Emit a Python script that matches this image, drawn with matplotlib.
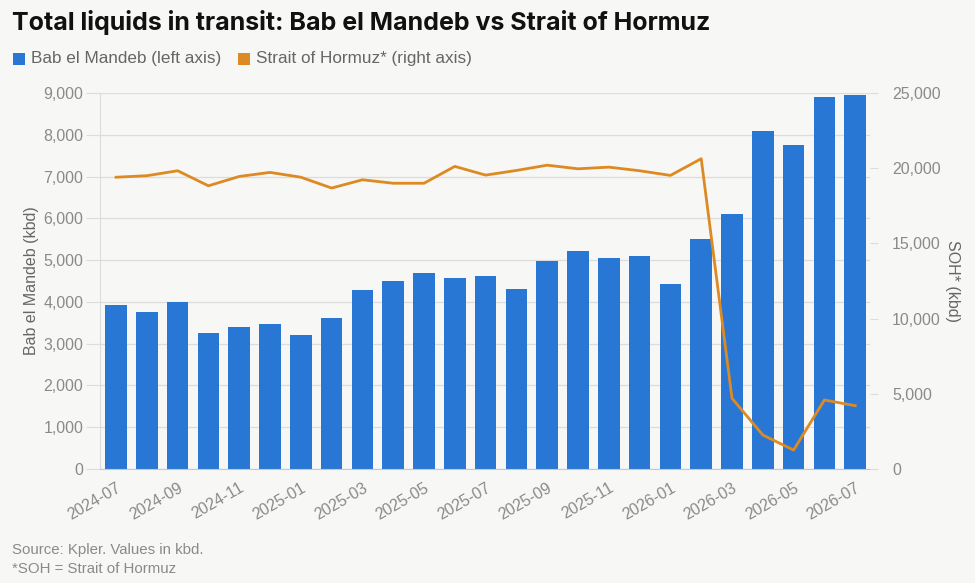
import matplotlib
matplotlib.use("Agg")
import matplotlib.pyplot as plt
from matplotlib.patches import Rectangle

months = ["2024-07","2024-08","2024-09","2024-10","2024-11","2024-12",
          "2025-01","2025-02","2025-03","2025-04","2025-05","2025-06",
          "2025-07","2025-08","2025-09","2025-10","2025-11","2025-12",
          "2026-01","2026-02","2026-03","2026-04","2026-05","2026-06","2026-07"]
bab_el_mandeb = [3930, 3750, 4000, 3250, 3390, 3480, 3200, 3620, 4290, 4500,
                 4700, 4580, 4620, 4300, 4990, 5210, 5050, 5100, 4420, 5500,
                 6110, 8080, 7760, 8900, 8950]
hormuz = [19400, 19500, 19830, 18830, 19450, 19720, 19400, 18680, 19230, 19000,
          19000, 20120, 19540, 19850, 20200, 19960, 20070, 19830, 19520, 20630,
          4700, 2260, 1260, 4590, 4210]
left_ticks = [0, 1000, 2000, 3000, 4000, 5000, 6000, 7000, 8000, 9000]
right_ticks = [0, 5000, 10000, 15000, 20000, 25000]

BG = "#f7f7f5"
BLUE = "#2977d5"
ORANGE = "#dd8a22"
GRID = "#dcdcdc"
TXT = "#8a8a8a"

plt.rcParams['font.family'] = ['Liberation Sans', 'DejaVu Sans']

fig = plt.figure(figsize=(9.75, 5.83), dpi=100, facecolor=BG)
ax = fig.add_axes([0.1026, 0.1955, 0.7897, 0.645])
ax.set_facecolor(BG)
x = list(range(len(months)))
ax.bar(x, bab_el_mandeb, width=0.7, color=BLUE, zorder=2)
ax.set_ylim(0, 9000)
ax.set_xlim(-0.52, 24.48)
ax.set_yticks(left_ticks)
ax.set_yticklabels([f"{v:,}" for v in left_ticks])
ax.grid(axis='y', color=GRID, linewidth=0.9, zorder=0)
ax.tick_params(axis='y', length=10, color=GRID, labelsize=11.5, labelcolor=TXT, pad=2)
ax.set_xticks(x[::2])
ax.set_xticklabels(months[::2], rotation=30, ha='right', rotation_mode='anchor')
ax.tick_params(axis='x', length=0, labelsize=11.5, labelcolor=TXT, pad=8)
for s in ['top', 'right']:
    ax.spines[s].set_visible(False)
ax.spines['left'].set_color(GRID)
ax.spines['bottom'].set_color("#c8c8c8")
ax.set_ylabel("Bab el Mandeb (kbd)", fontsize=11.5, color="#666666", labelpad=3)

ax2 = ax.twinx()
ax2.plot(x, hormuz, color=ORANGE, linewidth=2.0, zorder=3, solid_joinstyle='round')
ax2.set_ylim(0, 25000)
ax2.set_yticks(right_ticks)
ax2.set_yticklabels([f"{v:,}" for v in right_ticks])
ax2.tick_params(axis='y', length=6, color=GRID, labelsize=11.5, labelcolor=TXT, pad=10)
for s in ['top', 'right', 'left', 'bottom']:
    ax2.spines[s].set_visible(False)
ax2.set_ylabel("SOH* (kbd)", fontsize=11.5, color="#666666", rotation=-90, labelpad=14)

fig.text(0.012, 0.962, "Total liquids in transit: Bab el Mandeb vs Strait of Hormuz",
         fontsize=18, fontweight='bold', color="#111111", va='center',
         family=['Inter', 'DejaVu Sans'])
# legend
for xs, col, lab in [(0.013, BLUE, "Bab el Mandeb (left axis)"),
                     (0.244, ORANGE, "Strait of Hormuz* (right axis)")]:
    fig.patches.append(Rectangle((xs, 0.888), 0.0125, 0.021, transform=fig.transFigure,
                                 facecolor=col, edgecolor='none'))
    fig.text(xs + 0.019, 0.899, lab, fontsize=12.3, color="#666666", va='center')

fig.text(0.012, 0.056, "Source: Kpler. Values in kbd.", fontsize=10.8, color="#8a8a8a", va='center')
fig.text(0.012, 0.024, "*SOH = Strait of Hormuz", fontsize=10.8, color="#8a8a8a", va='center')

fig.savefig("out.png", dpi=100, facecolor=BG)
